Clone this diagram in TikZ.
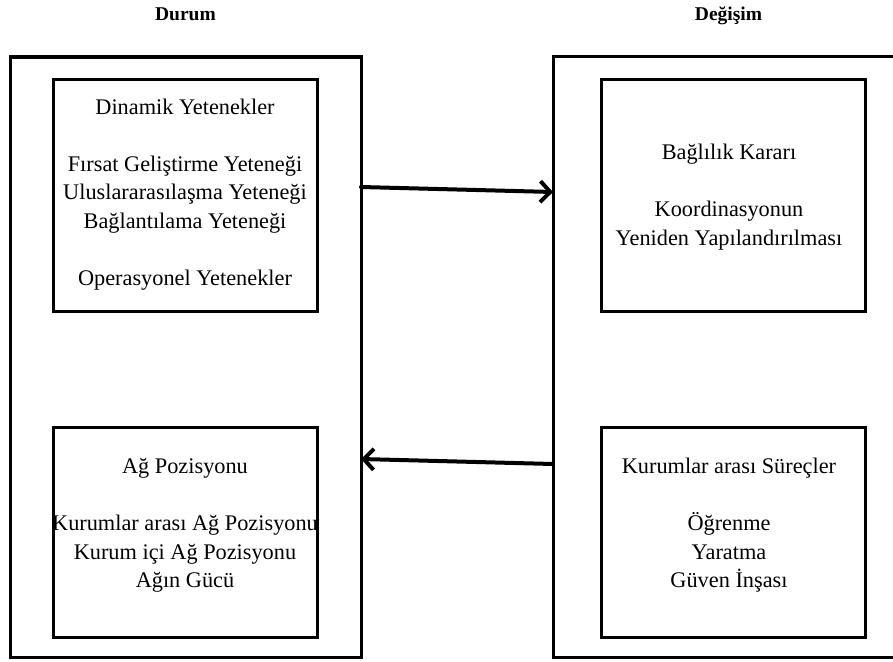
\documentclass[tikz,border=0pt]{standalone}
\usepackage{fontspec}
\setmainfont{Liberation Serif}
\usetikzlibrary{arrows.meta}
\begin{document}
\begin{tikzpicture}[x=1pt,y=-1pt,
  box/.style={draw, line width=3pt, rectangle, inner sep=0pt, outer sep=0pt, anchor=north west},
  txt/.style={align=center, font=\fontsize{22.3}{28.5}\selectfont, inner sep=0pt},
  ttl/.style={font=\fontsize{19.5}{22}\selectfont\bfseries, inner sep=0pt, anchor=base},
  arr/.style={line width=4pt, -{Straight Barb[length=10pt,width=21pt,line width=4pt]}, line cap=round}
]
\useasboundingbox (0,0) rectangle (893,661);
% titles
\node[ttl] (t1) at (185.5,20.5) {Durum};
\node[ttl] (t2) at (728.5,20.5) {Değişim};
% outer boxes
\node[box, minimum width=351pt, minimum height=600pt] (L) at (10,57) {};
\node[draw=none, inner sep=0pt, outer sep=0pt, anchor=north west, minimum width=360pt, minimum height=600pt] (R) at (553,57) {};
\draw[line width=3pt] (R.north east) -- (R.north west) -- (R.south west) -- (R.south east);
% inner boxes
\node[box, minimum width=264pt, minimum height=232pt] (A) at (53,79) {};
\node[box, minimum width=264pt, minimum height=210pt] (B) at (53,427) {};
\node[box, minimum width=264pt, minimum height=232pt] (C) at (601,79) {};
\node[box, minimum width=264pt, minimum height=210pt] (D) at (601,427) {};
% texts
\node[txt] (a) at (185,194.5) {Dinamik Yetenekler\\[28.5pt]Fırsat Geliştirme Yeteneği\\Uluslararasılaşma Yeteneği\\Bağlantılama Yeteneği\\[28.5pt]Operasyonel Yetenekler};
\node[txt] (c) at (729,197) {Bağlılık Kararı\\[28.5pt]Koordinasyonun\\Yeniden Yapılandırılması};
\node[txt] (b) at (185,525.5) {Ağ Pozisyonu\\[28.5pt]Kurumlar arası Ağ Pozisyonu\\Kurum içi Ağ Pozisyonu\\Ağın Gücü};
\node[txt] (d) at (729,525.5) {Kurumlar arası Süreçler\\[28.5pt]Öğrenme\\Yaratma\\Güven İnşası};
% arrows
\draw[arr] ([yshift=170pt]L.east) -- ([yshift=165pt]R.west);
\draw[arr] ([yshift=-107pt]R.west) -- ([yshift=-102pt]L.east);
\end{tikzpicture}
\end{document}
